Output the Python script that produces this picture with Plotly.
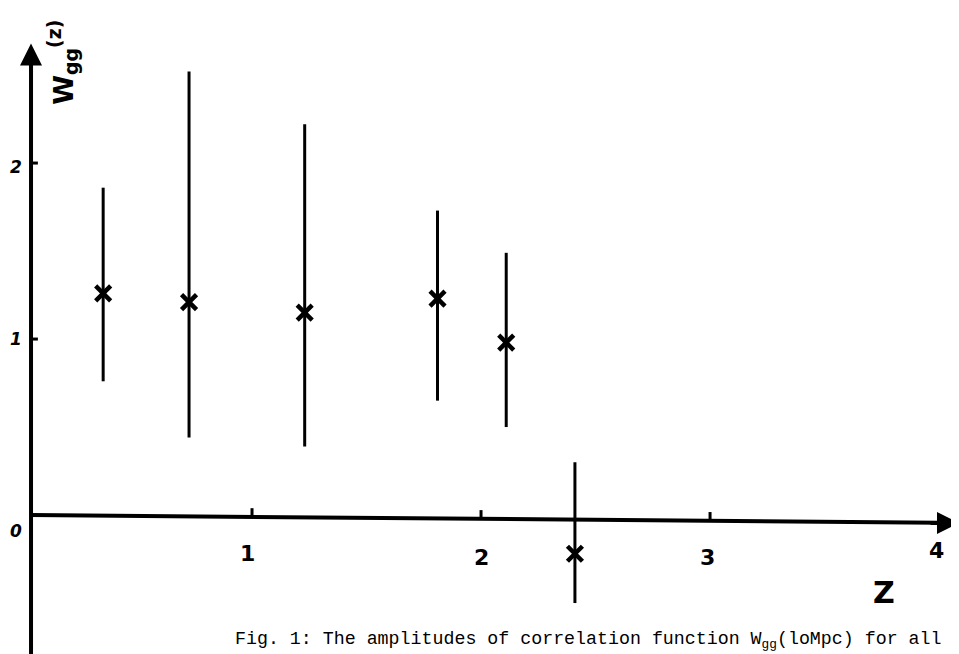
import plotly.graph_objects as go

# Data
z = [0.35, 0.725, 1.23, 1.81, 2.11, 2.41]
w = [1.26, 1.21, 1.15, 1.23, 0.98, -0.22]
w_hi = [1.86, 2.52, 2.22, 1.73, 1.49, 0.30]
w_lo = [0.76, 0.44, 0.39, 0.65, 0.50, -0.50]

x_tick_vals = [1, 2, 3, 4]
x_tick_labels = ["1", "2", "3", "4"]
y_tick_vals = [0, 1, 2]
y_tick_labels = ["0", "1", "2"]

err_plus = [h - v for h, v in zip(w_hi, w)]
err_minus = [v - l for v, l in zip(w, w_lo)]

fig = go.Figure()
fig.add_trace(go.Scatter(
    x=z, y=w, mode="markers",
    marker=dict(symbol="x-thin", size=15, color="black",
                line=dict(width=4.5, color="black")),
    error_y=dict(type="data", symmetric=False, array=err_plus,
                 arrayminus=err_minus, width=0, thickness=3, color="black"),
    showlegend=False,
))

# ranges compensate for the 8px page margin of the html body
XR = [-0.0655, 4.122]
YR = [-0.835, 2.881]
x_axis_pos = 0.035  # y-axis drawn at this z
slope = -0.045 / 4.1

shapes = []
# y axis
shapes.append(dict(type="line", xref="x", yref="y", x0=x_axis_pos, x1=x_axis_pos,
                   y0=YR[0], y1=2.62, line=dict(color="black", width=4)))
# x axis (slightly sloped, hand drawn)
shapes.append(dict(type="line", xref="x", yref="y", x0=x_axis_pos, x1=4.0,
                   y0=0, y1=slope * 4.0, line=dict(color="black", width=4)))
# x ticks
for v in x_tick_vals[:3]:
    base = slope * v
    shapes.append(dict(type="line", xref="x", yref="y", x0=v, x1=v,
                       y0=base, y1=base + 0.05, line=dict(color="black", width=3)))
# y ticks
for v in y_tick_vals[1:]:
    shapes.append(dict(type="line", xref="x", yref="y", x0=x_axis_pos, x1=x_axis_pos + 0.03,
                       y0=v, y1=v, line=dict(color="black", width=3)))

annotations = []
# arrow heads
annotations.append(dict(x=x_axis_pos, y=2.68, xref="x", yref="y", showarrow=True,
                        ax=0, ay=30, arrowhead=2, arrowsize=1.1, arrowwidth=4,
                        arrowcolor="black", text=""))
annotations.append(dict(x=4.087, y=slope * 4.087, xref="x", yref="y", showarrow=True,
                        ax=-30, ay=0, arrowhead=2, arrowsize=1.1, arrowwidth=4,
                        arrowcolor="black", text=""))
tick_font = dict(family="DejaVu Sans", size=22, color="black")
x_label_off = [(-0.02, -0.22), (0.0, -0.24), (-0.01, -0.24), (-0.01, -0.20)]
for v, lab, (dx, dy) in zip(x_tick_vals, x_tick_labels, x_label_off):
    annotations.append(dict(x=v + dx, y=dy, xref="x", yref="y", text="<b>" + lab + "</b>",
                            showarrow=False, font=tick_font))
y_label_dy = [-0.09, 0.0, -0.02]
for v, lab, dy in zip(y_tick_vals, y_tick_labels, y_label_dy):
    annotations.append(dict(x=XR[0], y=v + dy, xref="x", yref="y", xanchor="left",
                            text="<b><i>" + lab + "</i></b>",
                            showarrow=False, font=dict(family="DejaVu Sans", size=17, color="black")))
# axis titles
annotations.append(dict(x=3.76, y=-0.44, xref="x", yref="y", text="<b>Z</b>", showarrow=False,
                        font=dict(family="DejaVu Sans", size=30, color="black")))
annotations.append(dict(x=0.175, y=2.57, xref="x", yref="y",
                        text="<b>W<sub>gg</sub><sup>(z)</sup></b>", textangle=-90,
                        showarrow=False, font=dict(family="DejaVu Sans", size=27, color="black")))
# caption
annotations.append(dict(x=0.915, y=-0.71, xref="x", yref="y", xanchor="left", yanchor="middle",
                        text="Fig. 1: The amplitudes of correlation function W<sub>gg</sub>(loMpc) for all",
                        showarrow=False,
                        font=dict(family="Liberation Mono", size=18.3, color="black")))

fig.update_layout(
    width=959, height=654,
    margin=dict(l=0, r=0, t=0, b=0),
    paper_bgcolor="white", plot_bgcolor="white",
    xaxis=dict(range=XR, visible=False, fixedrange=True),
    yaxis=dict(range=YR, visible=False, fixedrange=True),
    shapes=shapes, annotations=annotations,
)

fig.write_html("out.html")
